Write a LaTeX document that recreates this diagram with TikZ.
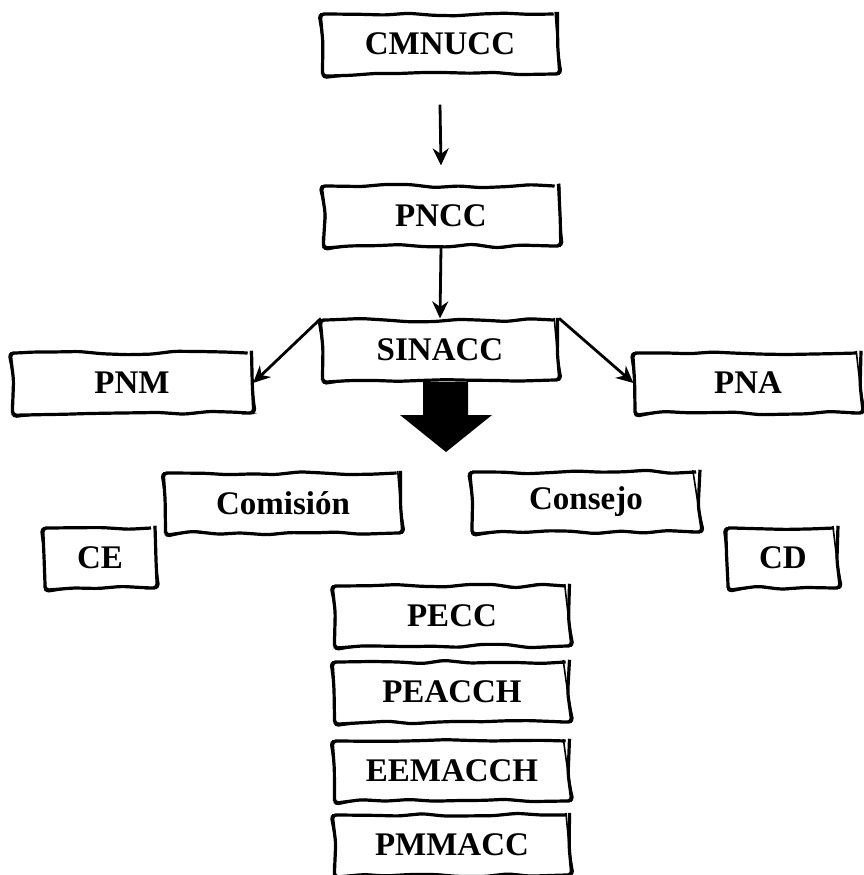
\documentclass[tikz,border=0pt]{standalone}
\usepackage{fontspec}
\setmainfont{Liberation Serif}
\usetikzlibrary{arrows.meta, positioning, decorations.pathmorphing}
\tikzset{
        >={Stealth[length=8.5pt,width=8pt]}, % arrow heads
        link/.style={->, line width=1.4pt}, % plain connectors
    }
\tikzset{
      sketch box/.style={
		draw, line width=1.6pt,
		minimum width={#1*0.5pt},
		minimum height=30pt,
		font=\fontsize{16.5}{19}\selectfont\bfseries,
		decorate, decoration={random steps, segment length=12pt, amplitude=0.9pt},
		rounded corners=2pt,
		postaction={draw, line width=0.8pt, decorate,
		  decoration={random steps, segment length=16pt, amplitude=1.1pt}},
	  },
	  sketch box/.default=235,
  	}
\begin{document}
\begin{tikzpicture}[x=0.5pt, y=-0.5pt]
    \pgfmathsetseed{7}
    \useasboundingbox (0,0) rectangle (864,875);
    % top chain
    \node [sketch box] (cmnucc) at (440,44) {CMNUCC};
    \node [sketch box] (pncc) at (441,216) {PNCC};
    \node [sketch box] (sinacc) at (440,350) {SINACC};
    \node [sketch box=239] (pnm) at (132,383) {PNM};
    \node [sketch box=226] (pna) at (748,383) {PNA};
    % middle row
    \node [sketch box] (comision) at (283,503) {Comisión};
    \node [sketch box=228] (consejo) at (586,502) {Consejo};
    \node [sketch box=110] (ce) at (100,558) {CE};
    \node [sketch box=110] (cd) at (783,558) {CD};
    % stack
    \node [sketch box] (pecc) at (452,616) {PECC};
    \node [sketch box] (peacch) at (452,692) {PEACCH};
    \node [sketch box] (eemacch) at (452,771) {EEMACCH};
    \node [sketch box] (pmmacc) at (452,845) {PMMACC};

    \draw [link] ([yshift=-14.5pt]cmnucc.south) -- ([yshift=9.5pt]pncc.north);
    \draw [link] (pncc.south) -- (sinacc.north);
    \draw [link] (sinacc.north west) -- (pnm.east);
    \draw [link] (sinacc.north east) -- (pna.west);
    % big block arrow
    \fill (423,382) -- (468,382) -- (468,415) -- (492,415) -- (446,452)
      -- (400,415) -- (423,415) -- cycle;
  \end{tikzpicture}
\end{document}
